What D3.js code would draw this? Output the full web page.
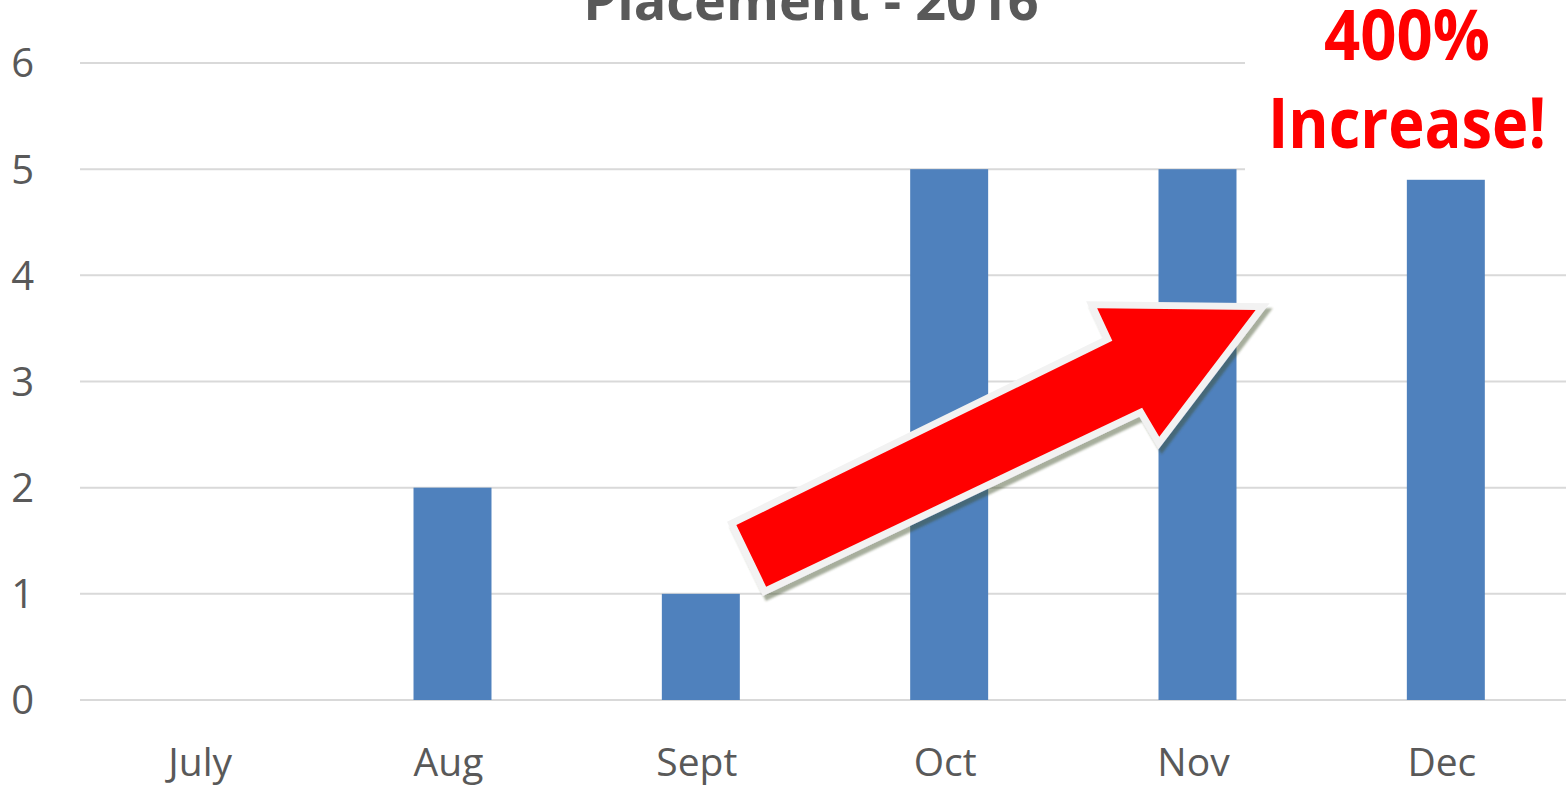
<!DOCTYPE html>
<html>
<head>
<meta charset="utf-8">
<script src="https://cdn.jsdelivr.net/npm/d3@7"></script>
<style>
  html, body { margin: 0; padding: 0; background: #fff; overflow: hidden; }
  text { font-family: "Open Sans", sans-serif; }
</style>
</head>
<body>
<script>
// chart data
const months     = ["July", "Aug", "Sept", "Oct", "Nov", "Dec"];
const placements = [0, 2, 1, 5, 5, 4.9];
const yTicks     = [0, 1, 2, 3, 4, 5, 6];
const titleText  = "Placement - 2016";
const noteLines  = ["400%", "Increase!"];

// arrow annotation outline, in (category index, value) units
const arrowIdx = [2.263, 2.143, 3.657, 3.596, 4.234, 3.846, 3.777];
const arrowVal = [1.067, 1.648, 3.384, 3.689, 3.673, 2.480, 2.753];

const W = 1566, H = 786;
const plotLeft = 80, plotRight = 1570, plotTop = 63, plotBottom = 700;

const svg = d3.select("body")
  .append("svg")
  .attr("width", W)
  .attr("height", H);

const x = d3.scaleBand()
  .domain(months)
  .range([plotLeft, plotRight])
  .paddingInner(0.686)
  .paddingOuter(0.343);

// same x space, but continuous, for the annotation
const xi = d3.scaleLinear().domain([-0.5, months.length - 0.5]).range([plotLeft, plotRight]);

const y = d3.scaleLinear().domain([0, 6]).range([plotBottom, plotTop]);

// gridlines
svg.append("g")
  .selectAll("line")
  .data(yTicks)
  .join("line")
  .attr("x1", plotLeft).attr("x2", W)
  .attr("y1", d => y(d)).attr("y2", d => y(d))
  .attr("stroke", "#d9d9d9")
  .attr("stroke-width", 2);

// y tick labels
svg.append("g")
  .selectAll("text")
  .data(yTicks)
  .join("text")
  .attr("x", 34)
  .attr("y", d => y(d))
  .attr("dy", "0.36em")
  .attr("text-anchor", "end")
  .attr("font-size", 40)
  .attr("fill", "#595959")
  .text(d => d);

// white text box behind the note (hides gridlines)
svg.append("rect")
  .attr("x", 1245).attr("y", 0)
  .attr("width", W - 1245).attr("height", 175)
  .attr("fill", "#fff");

// bars
svg.append("g")
  .selectAll("rect")
  .data(placements)
  .join("rect")
  .attr("x", (d, i) => x(months[i]))
  .attr("y", d => y(d))
  .attr("width", x.bandwidth())
  .attr("height", d => y(0) - y(d))
  .attr("fill", "#4f81bd");

// category labels
svg.append("g")
  .selectAll("text")
  .data(months)
  .join("text")
  .attr("x", d => x(d) + x.bandwidth() / 2 - 4)
  .attr("y", 776)
  .attr("text-anchor", "middle")
  .attr("font-size", 39)
  .attr("fill", "#595959")
  .text(d => d);

// title (cut off at the top like the source)
svg.append("text")
  .attr("x", 811)
  .attr("y", 20)
  .attr("text-anchor", "middle")
  .attr("font-size", 54)
  .attr("font-weight", "bold")
  .attr("fill", "#595959")
  .text(titleText);

// arrow with white outline and soft shadow
const defs = svg.append("defs");
const f = defs.append("filter")
  .attr("id", "shadow")
  .attr("x", "-10%").attr("y", "-10%")
  .attr("width", "130%").attr("height", "130%");
f.append("feDropShadow")
  .attr("dx", 3).attr("dy", 5)
  .attr("stdDeviation", 1)
  .attr("flood-color", "#3a4a20")
  .attr("flood-opacity", 0.45);

const arrowPts = arrowIdx.map((d, i) => [xi(d), y(arrowVal[i])]);
svg.append("polygon")
  .attr("points", arrowPts.map(p => p.join(",")).join(" "))
  .attr("fill", "#ff0000")
  .attr("stroke", "#f2f2f2")
  .attr("stroke-width", 14)
  .attr("stroke-linejoin", "miter")
  .attr("stroke-miterlimit", 10)
  .attr("paint-order", "stroke")
  .attr("filter", "url(#shadow)");

// note text
const noteY = [60, 148];
const noteW = [166, 278];
svg.append("g")
  .selectAll("text")
  .data(noteLines)
  .join("text")
  .attr("x", 1407)
  .attr("y", (d, i) => noteY[i])
  .attr("text-anchor", "middle")
  .attr("font-size", 70)
  .attr("font-weight", "bold")
  .attr("fill", "#ff0000")
  .attr("textLength", (d, i) => noteW[i])
  .attr("lengthAdjust", "spacingAndGlyphs")
  .text(d => d);
</script>
</body>
</html>
